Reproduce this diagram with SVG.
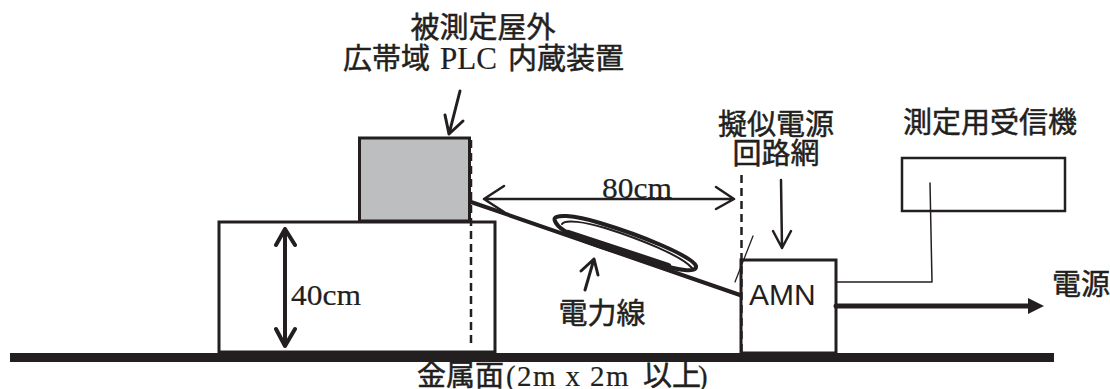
<svg xmlns="http://www.w3.org/2000/svg" width="1110" height="389" viewBox="0 0 1110 389">
<style>
.j{font-family:"Noto Sans CJK JP","Liberation Sans",sans-serif;font-size:29px;fill:#231f20;stroke:#231f20;stroke-width:.5px}
.s{font-family:"Liberation Serif","Noto Sans CJK JP",serif;fill:#231f20;font-size:29px;stroke:#231f20;stroke-width:.2px}
.l{fill:none;stroke:#231f20;stroke-linecap:round;stroke-linejoin:round}
.b{stroke:#231f20;stroke-width:3;fill:#fff}
.d{fill:none;stroke:#231f20;stroke-width:2.5;stroke-dasharray:8 5}
</style>
<rect width="1110" height="389" fill="#fff"/>
<g id="ground"><rect x="10" y="353" width="1044" height="9" fill="#231f20"/></g>
<g id="table"><rect class="b" x="219" y="222" width="276" height="130"/></g>
<g id="device"><rect x="359.500" y="138" width="110" height="83" fill="#bcbec0" stroke="#231f20" stroke-width="3"/></g>
<g id="amn"><rect class="b" x="741" y="260" width="95" height="93"/>
<text x="749" y="305" font-family="Liberation Sans,sans-serif" font-size="30" fill="#231f20">AMN</text></g>
<g id="receiver"><rect x="902" y="158" width="163" height="53" fill="#fff" stroke="#231f20" stroke-width="2.500"/></g>
<g id="connectors">
<path class="d" d="M471 140V348M741.500 175V362"/>
<path class="l" stroke-width="4" d="M471 202L740 295"/>
<path class="l" stroke-width="4" d="M555 221C551 213 575 215 600 223C640 235 692 256 696 266C697 273 680 271 650 262C610 250 560 236 555 221Z"/>
<path class="l" stroke-width="2" d="M562 224C565 219 585 222 605 228C640 239 682 256 692 268"/>
<path class="l" stroke-width="6.500" d="M568 233L668 266"/>
<path class="l" stroke-width="2.500" d="M484 199H734M504 186L484 199L504 212M716 187L734 199L716 209"/>
<path class="l" stroke-width="4" d="M285 229V346M276 245L285 229L295 245M276 329L285 346L295 329"/>
<path class="l" stroke-width="3" d="M460 91L449 134M445 115L449 134L463 121"/>
<path class="l" stroke-width="2.500" d="M781 180L782 248M773 231L782 248L791 231"/>
<path class="l" stroke-width="3" d="M585 290L594 259M581 271L594 259L598 275"/>
<path class="l" stroke-width="1.300" d="M753 236L735 282"/>
<path class="l" stroke-width="1.500" d="M836 282H932L930 183"/>
<path class="l" stroke-width="5" d="M836 306H1030"/>
<path d="M1028 298L1044 306L1028 314Z" fill="#231f20"/>
</g>
<g id="labels">
<text class="j" x="483" y="38" text-anchor="middle">被測定屋外</text>
<text class="j" x="343" y="69">広帯域<tspan class="s" x="440" style="font-size:31px">PLC</tspan><tspan x="508">内蔵装置</tspan></text>
<text class="j" x="776" y="135" text-anchor="middle">擬似電源</text>
<text class="j" x="776" y="164" text-anchor="middle">回路網</text>
<text class="j" x="990" y="133" text-anchor="middle">測定用受信機</text>
<text class="j" x="1081" y="295" text-anchor="middle">電源</text>
<text class="j" x="602" y="324" text-anchor="middle">電力線</text>
<text class="s" x="291" y="305" textLength="70" lengthAdjust="spacingAndGlyphs">40cm</text>
<text class="s" x="602" y="198" textLength="70" lengthAdjust="spacingAndGlyphs">80cm</text>
<text class="j" x="417" y="386">金属面<tspan class="s" x="506" letter-spacing="1.400">(2m x 2m</tspan><tspan x="643">以上</tspan><tspan class="s" x="698">)</tspan></text>
</g>
</svg>
